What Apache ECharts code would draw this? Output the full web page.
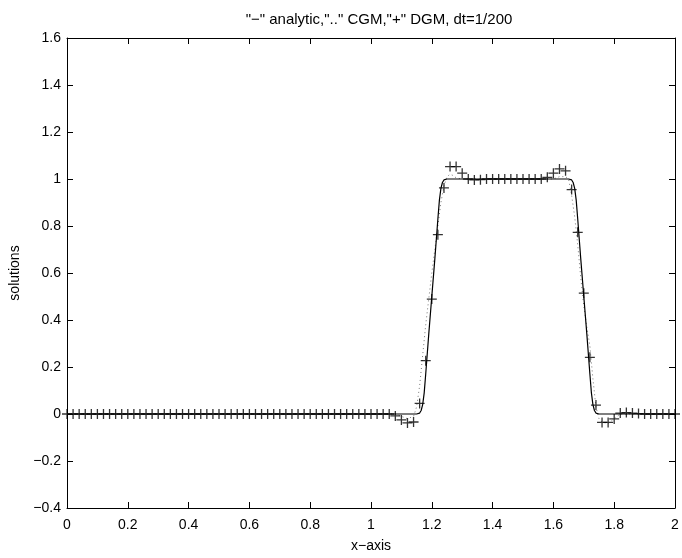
<!DOCTYPE html>
<html>
<head>
<meta charset="utf-8">
<script src="https://cdn.jsdelivr.net/npm/echarts@6/dist/echarts.min.js"></script>
<style>html,body{margin:0;padding:0;background:#fff}#c{width:682px;height:558px}</style>
</head>
<body>
<div id="c"></div>
<script>
// DGM nodal values ("+" markers), x = 0 .. 2 by 0.02
var dgmX = [0,0.02,0.04,0.06,0.08,0.1,0.12,0.14,0.16,0.18,0.2,0.22,0.24,0.26,0.28,0.3,0.32,0.34,0.36,0.38,
  0.4,0.42,0.44,0.46,0.48,0.5,0.52,0.54,0.56,0.58,0.6,0.62,0.64,0.66,0.68,0.7,0.72,0.74,0.76,0.78,
  0.8,0.82,0.84,0.86,0.88,0.9,0.92,0.94,0.96,0.98,1,1.02,1.04,1.06,1.08,1.1,1.12,1.14,1.16,1.18,
  1.2,1.22,1.24,1.26,1.28,1.3,1.32,1.34,1.36,1.38,1.4,1.42,1.44,1.46,1.48,1.5,1.52,1.54,1.56,1.58,
  1.6,1.62,1.64,1.66,1.68,1.7,1.72,1.74,1.76,1.78,1.8,1.82,1.84,1.86,1.88,1.9,1.92,1.94,1.96,1.98,2];
var dgmY = [0,0,0,0,0,0,0,0,0,0,0,0,0,0,0,0,0,0,0,0,
  0,0,0,0,0,0,0,0,0,0,0,0,0,0,0,0,0,0,0,0,
  0,0,0,0,0,0,0,0,0,0,0,0,0,0,-0.008,-0.025,-0.038,-0.034,0.045,0.227,
  0.489,0.763,0.962,1.053,1.053,1.025,1.0,0.996,0.997,1.0,1.0,1.0,1.0,1.0,1.0,1.0,1.0,1.0,1.0,1.007,
  1.025,1.043,1.035,0.955,0.773,0.514,0.241,0.038,-0.036,-0.036,-0.021,0.004,0.006,0.004,0.002,0,0,0,0,0,0];

// analytic solution (solid)
var anaX = [0,1.15,1.16,1.165,1.17,1.175,1.18,1.19,1.2,1.21,1.22,1.225,1.23,1.235,1.24,1.25,
  1.65,1.66,1.665,1.67,1.675,1.68,1.69,1.7,1.71,1.72,1.725,1.73,1.735,1.74,1.75,2];
var anaY = [0,0,0.004,0.015,0.04,0.09,0.17,0.34,0.5,0.66,0.83,0.91,0.96,0.985,0.996,1,
  1,0.996,0.985,0.96,0.91,0.83,0.66,0.5,0.34,0.17,0.09,0.04,0.015,0.004,0,0];

// CGM solution (dotted)
var cgmX = [0,1.08,1.1,1.12,1.14,1.15,1.16,1.17,1.18,1.19,1.2,1.21,1.22,1.23,1.24,1.25,1.26,1.27,1.28,1.3,
  1.6,1.62,1.64,1.65,1.66,1.67,1.68,1.69,1.7,1.71,1.72,1.73,1.74,1.75,1.76,1.78,1.8,1.82,2];
var cgmY = [0,0,-0.01,-0.02,-0.01,0.03,0.12,0.25,0.38,0.49,0.6,0.7,0.8,0.9,0.97,1.01,1.02,1.015,1.005,1.0,
  1.0,1.01,1.01,1.0,0.93,0.84,0.72,0.58,0.46,0.37,0.29,0.15,0.03,-0.02,-0.035,-0.04,-0.02,0,0];

var titleText = '"\u2212" analytic,".." CGM,"+" DGM, dt=1/200';
var xName = 'x\u2212axis';
var yName = 'solutions';

function pairs(xs, ys){ return xs.map(function(x,i){ return [x, ys[i]]; }); }

var font = 'Liberation Sans, Arial, Helvetica, sans-serif';
var axisCommon = {
  axisLine: {show: true, onZero: false, lineStyle: {color: '#000', width: 1}},
  axisTick: {show: true, inside: true, length: 6, lineStyle: {color: '#000'}},
  splitLine: {show: false}
};
function fmt(v){ var s = String(Math.round(v*10)/10); return s.replace('-', '\u2212'); }

var chart = echarts.init(document.getElementById('c'), null, {renderer: 'canvas'});
chart.setOption({
  animation: false,
  backgroundColor: '#fff',
  title: {
    text: titleText, left: 374, top: 7, textAlign: 'center',
    textStyle: {fontFamily: font, fontSize: 15, fontWeight: 'normal', color: '#000'}
  },
  grid: {left: 67, right: 7, top: 38, bottom: 44, containLabel: false},
  xAxis: [
    Object.assign({type: 'value', position: 'bottom', min: 0, max: 2, interval: 0.2,
      name: xName, nameLocation: 'middle', nameGap: 31,
      nameTextStyle: {fontFamily: font, fontSize: 14, color: '#000'},
      axisLabel: {fontFamily: font, fontSize: 14, color: '#000', margin: 10, formatter: fmt}}, axisCommon),
    Object.assign({type: 'value', position: 'top', min: 0, max: 2, interval: 0.2,
      axisLabel: {show: false}}, axisCommon)
  ],
  yAxis: [
    Object.assign({type: 'value', position: 'left', min: -0.4, max: 1.6, interval: 0.2,
      name: yName, nameLocation: 'middle', nameGap: 42, nameRotate: 90,
      nameTextStyle: {fontFamily: font, fontSize: 14, color: '#000'},
      axisLabel: {fontFamily: font, fontSize: 14, color: '#000', margin: 6, formatter: fmt}}, axisCommon),
    Object.assign({type: 'value', position: 'right', min: -0.4, max: 1.6, interval: 0.2,
      axisLabel: {show: false}}, axisCommon)
  ],
  series: [
    {type: 'line', name: 'CGM', data: pairs(cgmX, cgmY), showSymbol: false, smooth: false,
      lineStyle: {color: '#777', width: 1, type: [1, 3]}, z: 2},
    {type: 'line', name: 'analytic', data: pairs(anaX, anaY), showSymbol: false, smooth: false,
      lineStyle: {color: '#000', width: 1.2}, z: 3},
    {type: 'scatter', name: 'DGM', data: pairs(dgmX, dgmY),
      symbol: 'path://M0,5L10,5M5,0L5,10', symbolSize: 10,
      itemStyle: {color: 'none', borderColor: '#000', borderWidth: 1.3}, z: 4}
  ]
});
</script>
</body>
</html>
